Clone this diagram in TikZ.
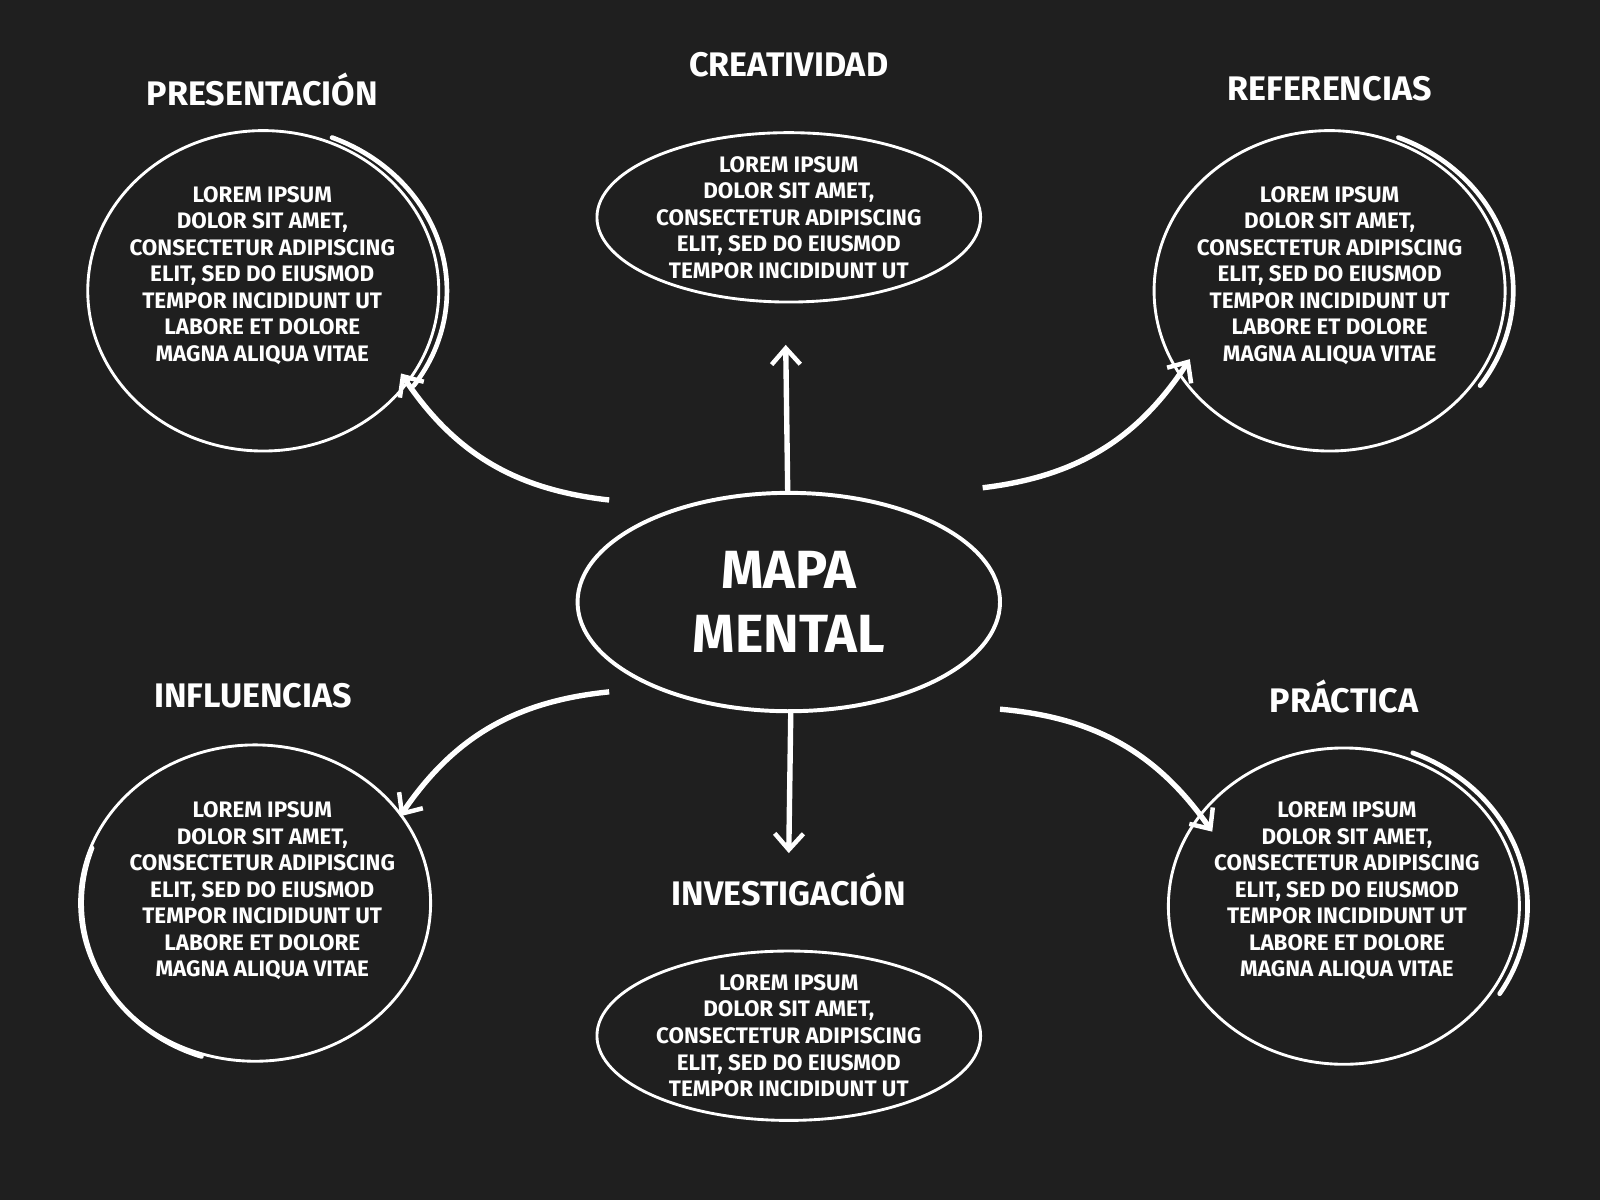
\documentclass[tikz,border=0pt]{standalone}
\usepackage{fontspec}
\setmainfont{Fira Sans}
\usetikzlibrary{arrows.meta,shapes.geometric}
\definecolor{board}{HTML}{1F1F1F}
\begin{document}
\begin{tikzpicture}[x=0.02cm,y=-0.02cm,
  ttl/.style={text=white,font=\fontsize{19}{22}\selectfont\bfseries},
  body/.style={text=white,align=center,font=\fontsize{12.5}{14.8}\selectfont\bfseries},
  ring/.style={draw=white,line width=1.6pt},
  hl/.style={draw=white,line width=2.6pt,line cap=round},
  arr/.style={draw=white,line width=3pt,-{Straight Barb[length=9pt,width=16pt,line width=2.5pt]}}]
\fill[board] (0,0) rectangle (1568,1176);
\useasboundingbox (0,0) rectangle (1568,1176);
% rings
\draw[ring] (258,285) ellipse [x radius=172,y radius=157];
\draw[hl] (258,285) ++(-68:180 and 162) arc[start angle=-68,end angle=35,x radius=180,y radius=162];
\draw[ring] (773,213) ellipse [x radius=188,y radius=83];
\draw[ring] (1303,285) ellipse [x radius=172,y radius=157];
\draw[hl] (1303,285) ++(-68:180 and 162) arc[start angle=-68,end angle=35,x radius=180,y radius=162];
\draw[ring] (250,885) ellipse [x radius=172,y radius=155];
\draw[hl] (250,885) ++(200:170 and 158) arc[start angle=200,end angle=108,x radius=170,y radius=158];
\draw[ring] (1317,888) ellipse [x radius=172,y radius=155];
\draw[hl] (1317,888) ++(-68:180 and 162) arc[start angle=-68,end angle=32,x radius=180,y radius=162];
\draw[ring] (773,1015) ellipse [x radius=188,y radius=83];
\draw[ring,line width=2.2pt] (773,590) ellipse [x radius=207,y radius=107];
% titles
\node[ttl] (tp) at (257,88) {PRESENTACIÓN};
\node[ttl] (tc) at (773,63) {CREATIVIDAD};
\node[ttl] (tr) at (1303,87) {REFERENCIAS};
\node[ttl] (ti) at (248,682) {INFLUENCIAS};
\node[ttl] (tpr) at (1317,683) {PRÁCTICA};
\node[ttl] (tin) at (773,872) {INVESTIGACIÓN};
% bodies
\def\longtxt{LOREM IPSUM\\DOLOR SIT AMET,\\CONSECTETUR ADIPISCING\\ELIT, SED DO EIUSMOD\\TEMPOR INCIDIDUNT UT\\LABORE ET DOLORE\\MAGNA ALIQUA VITAE}
\def\shorttxt{LOREM IPSUM\\DOLOR SIT AMET,\\CONSECTETUR ADIPISCING\\ELIT, SED DO EIUSMOD\\TEMPOR INCIDIDUNT UT}
\node[body] (bp) at (257,270) {\longtxt};
\node[body] (bc) at (773,213) {\shorttxt};
\node[body] (br) at (1303,270) {\longtxt};
\node[body] (bi) at (257,873) {\longtxt};
\node[body] (bpr) at (1320,873) {\longtxt};
\node[body] (bin) at (773,1015) {\shorttxt};
\node[text=white,align=center,font=\fontsize{30}{36}\selectfont\bfseries] (c) at (773,590) {MAPA\\MENTAL};
% arrow endpoints
\coordinate (s1) at (597,490); \coordinate (e1) at (393,366);
\coordinate (s2) at (772,485); \coordinate (e2) at (770,338);
\coordinate (s3) at (963,478); \coordinate (e3) at (1166,352);
\coordinate (s4) at (597,678); \coordinate (e4) at (392,800);
\coordinate (s5) at (775,695); \coordinate (e5) at (773,836);
\coordinate (s6) at (980,695); \coordinate (e6) at (1188,815);
\draw[arr] (s1) to[bend left=25] (e1);
\draw[arr] (s2) -- (e2);
\draw[arr] (s3) to[bend right=25] (e3);
\draw[arr] (s4) to[bend right=25] (e4);
\draw[arr] (s5) -- (e5);
\draw[arr] (s6) to[bend left=25] (e6);
\end{tikzpicture}
\end{document}
